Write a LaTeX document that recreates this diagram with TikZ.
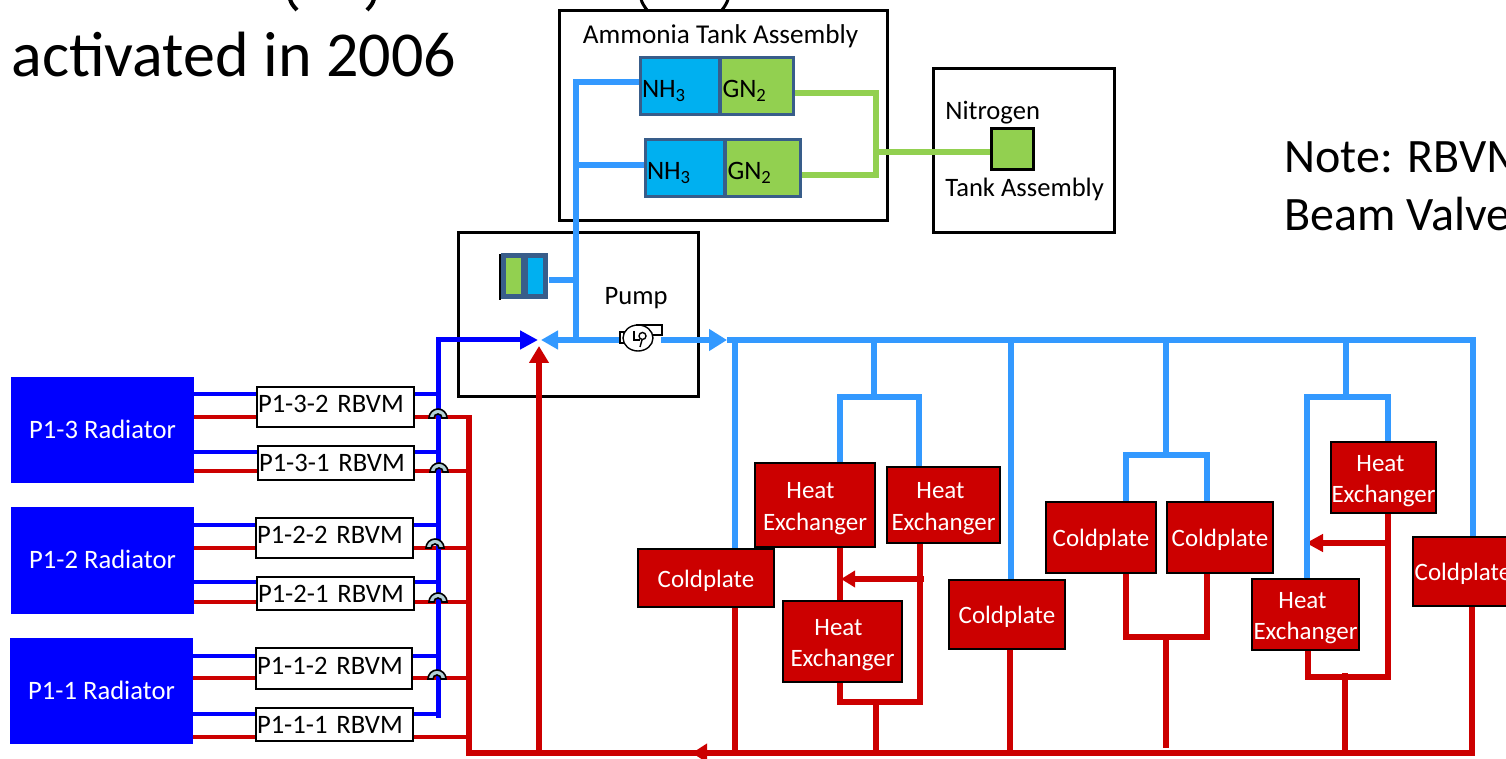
\documentclass[tikz,border=0pt]{standalone}
\usepackage{fontspec}
\setmainfont{Carlito}
\usetikzlibrary{arrows.meta}

\newcommand{\heatline}[1]{\rule{0pt}{11.5pt}Heat\kern#1}

\begin{document}
\begin{tikzpicture}[
		x=0.5pt, y=-0.5pt,
		txt/.style={font=\fontsize{13.3}{15.8}\selectfont, inner sep=0pt, align=center},
		lowtxt/.style={txt, execute at begin node={\rule{0pt}{11.5pt}}},
		boxsize/.style 2 args={minimum width=#1*0.5pt, minimum height=#2*0.5pt},
		lefttext/.style={text width=#1*0.5pt-1pt, inner xsep=0.5pt, align=left},
		bigbox/.style={draw=black, line width=1.5pt, fill=white, inner sep=0pt},
		part/.style={lowtxt, font=\fontsize{12.5}{15.8}\selectfont, draw=black, line width=0.8pt, fill=partred, text=white},
		valve/.style={txt, draw=black, line width=0.7pt, fill=white},
		radiator/.style={txt, fill=radblue, text=white, text depth=1pt},
		tank/.style={txt, draw=tankedge, line width=1.5pt, fill=#1, execute at begin node={\rule{0pt}{13.5pt}\kern0.5pt}},
		coldline/.style={line width=3pt, draw=coldblue},
		radline/.style={line width=2.1pt, draw=radblue},
		hotline/.style={line width=2.6pt, draw=partred},
		gasline/.style={line width=2.9pt, draw=gasgreen},
		hop/.style={line width=0.8pt, draw=black, fill=hopfill}
		]
		
		% ==========================================
		% COLORS
		% ==========================================
		\definecolor{coldblue}{HTML}{3399FF}
		\definecolor{radblue}{HTML}{0000FF}
		\definecolor{partred}{HTML}{CC0000}
		\definecolor{gasgreen}{HTML}{92D050}
		\definecolor{nhblue}{HTML}{00B0F0}
		\definecolor{tankedge}{HTML}{385D8A}
		\definecolor{hopfill}{HTML}{B4D2D7}
		
		\useasboundingbox (0,0) rectangle (1506,759);
		\clip (0,0) rectangle (1506,759);
		
		% ==========================================
		% TITLE AND NOTE (RUN OFF THE PAGE)
		% ==========================================
		\draw[line width=2pt] (290,-1) .. controls (291,3) and (293,6) .. (297,10);
		\draw[line width=2pt] (374,-1) .. controls (373,3) and (371,6) .. (367,10);
		\draw[line width=1.5pt] (641,-1) .. controls (642,3) and (644,6) .. (647,10);
		\draw[line width=1.5pt] (728,-1) .. controls (727,3) and (725,6) .. (722,10);
		\node[anchor=base west, inner sep=0pt, font=\fontsize{32}{36}\selectfont] (title) at (11,76.5) {activated in 2006};
		\node[anchor=base west, inner sep=0pt, font=\fontsize{24}{28}\selectfont] (note1) at (1284,173) {Note: RBVM};
		\node[anchor=base west, inner sep=0pt, font=\fontsize{24}{28}\selectfont] (note2) at (1284,231) {Beam Valve};
		
		% ==========================================
		% ENCLOSING BOXES
		% ==========================================
		\node[bigbox, boxsize={328}{210}] (ammoniabox) at (723,116) {};
		\node[bigbox, boxsize={181}{164}] (nitrogenbox) at (1023.5,151) {};
		\node[bigbox, boxsize={240}{164}] (pumpbox) at (578,315) {};
		
		\node[lowtxt, font=\fontsize{13.6}{16}\selectfont] (ammonialabel) at (720.5,34) {Ammonia Tank Assembly};
		\node[lowtxt, anchor=west] (nitrogenlabel) at (945,110) {Nitrogen};
		\node[lowtxt, anchor=west] (tanklabel) at (945,187) {Tank Assembly};
		\node[lowtxt] (pumplabel) at (636,295) {Pump};
		
		% ==========================================
		% TANKS
		% ==========================================
		\node[tank=nhblue, boxsize={79}{57}, lefttext=79] (nh1) at (679.5,86) {NH\textsubscript{3}};
		\node[tank=gasgreen, boxsize={73}{57}, lefttext=73] (gn1) at (757,86) {GN\textsubscript{2}};
		\node[tank=nhblue, boxsize={79}{57}, lefttext=79] (nh2) at (684.5,168) {NH\textsubscript{3}};
		\node[tank=gasgreen, boxsize={75}{57}, lefttext=75] (gn2) at (763,168) {GN\textsubscript{2}};
		\node[draw=black, line width=1.9pt, fill=gasgreen, boxsize={42}{41}] (gn3) at (1012.5,149) {};
		
		\node[tank=gasgreen, line width=2.5pt, boxsize={20}{41}] (tinygn) at (513,276.5) {};
		\node[tank=nhblue, line width=2.5pt, boxsize={20}{41}] (tinynh) at (535.5,276.5) {};
		\coordinate (tinyedge) at (500,254);
		\draw[line width=0.8pt] (tinyedge) -- (500,300);
		
		% ==========================================
		% COLD LOAD PARTS
		% ==========================================
		\node[part, boxsize={120}{84}] (he1) at (815,505) {\heatline{4.5pt}\\Exchanger};
		\node[part, boxsize={113}{76}] (he2) at (943.5,505) {\heatline{3pt}\\Exchanger};
		\node[part, boxsize={119}{81}] (he3) at (842.5,641.5) {\heatline{4pt}\\Exchanger};
		\node[part, boxsize={105}{71}] (he4) at (1383.5,477.5) {\heatline{3pt}\\Exchanger};
		\node[part, boxsize={107}{71}] (he5) at (1305.5,614.5) {\heatline{3pt}\\Exchanger};
		
		\node[part, boxsize={136}{58}] (cp1) at (706,578) {Coldplate};
		\node[part, boxsize={116}{69}] (cp2) at (1007,614.5) {Coldplate};
		\node[part, boxsize={110}{71}] (cp3) at (1101,537.5) {Coldplate};
		\node[part, boxsize={106}{71}] (cp4) at (1220,537.5) {Coldplate};
		\node[part, boxsize={100}{69}] (cp5) at (1463,571.5) {Coldplate};
		
		% ==========================================
		% RADIATORS AND VALVES
		% ==========================================
		\node[radiator, boxsize={183}{106}] (rad3) at (102.5,430) {P1-3 Radiator};
		\node[radiator, boxsize={183}{107}] (rad2) at (102.5,560.5) {P1-2 Radiator};
		\node[radiator, boxsize={183}{106}] (rad1) at (101.5,691) {P1-1 Radiator};
		
		\node[valve, boxsize={157}{40}, lefttext=157, text depth=3pt] (v32) at (335.5,407) {P1-3-2 RBVM};
		\node[valve, boxsize={156}{34}, lefttext=156] (v31) at (336,463) {P1-3-1 RBVM};
		\node[valve, boxsize={157}{40}, lefttext=157, text depth=3pt] (v22) at (334.5,538) {P1-2-2 RBVM};
		\node[valve, boxsize={157}{33}, lefttext=157] (v21) at (335.5,593.5) {P1-2-1 RBVM};
		\node[valve, boxsize={156}{41}, lefttext=156, text depth=3pt] (v12) at (334,668.5) {P1-1-2 RBVM};
		\node[valve, boxsize={157}{33}, lefttext=157] (v11) at (334.5,724.5) {P1-1-1 RBVM};
		
		% ==========================================
		% NITROGEN LINES
		% ==========================================
		\coordinate (gastop) at (876,93);
		\coordinate (gasmid) at (876,152);
		\coordinate (gasbot) at (876,175);
		\draw[gasline] (gn1.east |- gastop) -- (gastop) -- (gasbot) -- (gn2.east |- gasbot);
		\draw[gasline] (gasmid) -- (gn3.west |- gasmid);
		
		% ==========================================
		% RETURN LINES (RED)
		% ==========================================
		\coordinate (hotstart) at (469,415.5);
		\coordinate (hotcorner) at (469,753);
		\coordinate (hotend) at (1472,753);
		\coordinate (hotriser) at (539,753);
		\coordinate (hottip) at (539,346);
		\coordinate (hotarrow) at (692,753);
		\coordinate (hotarrowtail) at (712,753);
		
		\draw[hotline] (hotstart) -- (hotcorner) -- (hotend) -- (cp5.south -| hotend);
		\draw[hotline, -{Triangle[length=8.5pt, width=9.5pt]}] (hotriser) -- (hottip);
		\draw[hotline, -{Triangle[length=7.5pt, width=9pt]}] (hotarrowtail) -- (hotarrow);
		\draw[hotline] (cp1.south -| 735,0) -- (735,753);
		\draw[hotline] (cp2.south -| 1010,0) -- (1010,753);
		
		% Exchanger groups that join before the return line
		\coordinate (hea) at (840,702);
		\coordinate (heb) at (920,702);
		\draw[hotline] (he1.south -| hea) -- (he3.north -| hea);
		\draw[hotline] (he3.south -| hea) -- (hea) -- (heb) -- (he2.south -| heb);
		\draw[hotline] (876,702) -- (876,753);
		\draw[hotline, -{Triangle[length=7pt, width=8pt]}] (924,579) -- (841,579);
		
		\coordinate (hec) at (1308,677);
		\coordinate (hed) at (1388,677);
		\draw[hotline] (he5.south -| hec) -- (hec) -- (hed) -- (he4.south -| hed);
		\draw[hotline] (1345,673) -- (1345,753);
		\draw[hotline, -{Triangle[length=8.5pt, width=8.5pt]}] (1388,543) -- (1306,543);
		
		% Coldplate pair with the heavier line
		\coordinate (cpa) at (1126,637);
		\coordinate (cpb) at (1207,637);
		\draw[hotline, line width=3.2pt] (cp3.south -| cpa) -- (cpa) -- (cpb) -- (cp4.south -| cpb);
		\draw[hotline, line width=3.2pt] (1166,637) -- (1166,748);
		
		% ==========================================
		% SUPPLY LINES (LIGHT BLUE)
		% ==========================================
		\coordinate (coldtop) at (576,82);
		\coordinate (coldmid) at (576,165);
		\coordinate (coldstub) at (576,280);
		\coordinate (coldbot) at (576,340);
		\coordinate (coldtip) at (541,340);
		\coordinate (coldarrow) at (727,340);
		\coordinate (coldend) at (1473,340);
		
		\node[inner sep=0pt, boxsize={42}{34}] (pumpicon) at (640,336) {};
		
		\draw[coldline] (nh1.west |- coldtop) -- (coldtop) -- (coldbot);
		\draw[coldline] (nh2.west |- coldmid) -- (coldmid);
		\draw[coldline] (549,280) -- (coldstub);
		\draw[coldline, -{Triangle[length=8.5pt, width=9pt]}] (pumpicon.west |- coldbot) -- (coldtip);
		\draw[coldline, -{Triangle[length=9pt, width=10.5pt]}] (pumpicon.east |- coldbot) -- (coldarrow);
		\draw[coldline] (coldarrow) -- (coldend) -- (cp5.north -| coldend);
		\draw[coldline] (735,340) -- (cp1.north -| 735,0);
		\draw[coldline] (1011,340) -- (cp2.north -| 1011,0);
		
		% Each fork: riser x / bar y / left x / right x / left part / right part
		\foreach \bx/\by/\lx/\rx/\nl/\nr in {874/397/840/919/he1/he2, 1166/455/1126/1207/cp3/cp4, 1346/397/1307/1388/he5/he4} {
			\coordinate (forkl) at (\lx,\by);
			\coordinate (forkr) at (\rx,\by);
			\draw[coldline] (\bx,340) -- (\bx,\by);
			\draw[coldline, line width=3.2pt] (\nl.north -| forkl) -- (forkl) -- (forkr) -- (\nr.north -| forkr);
		}
		
		% ==========================================
		% RADIATOR LINES
		% ==========================================
		% valve / radiator / blue y / red y
		\foreach \v/\rad/\cy/\ry in {v32/rad3/394/417, v31/rad3/452/471, v22/rad2/525/548, v21/rad2/582/602, v12/rad1/656/678, v11/rad1/714/737} {
			\draw[radline] (\rad.east |- 0,\cy) -- (\v.west |- 0,\cy);
			\draw[hotline, line width=2.3pt] (\rad.east |- 0,\ry) -- (\v.west |- 0,\ry);
			\draw[radline] (\v.east |- 0,\cy) -- (438,\cy);
			\draw[hotline, line width=2.3pt] (\v.east |- 0,\ry) -- (469,\ry);
		}
		\coordinate (radend) at (438,718);
		\coordinate (radcorner) at (438,340);
		\coordinate (radtip) at (538,340);
		\draw[radline, line width=2.5pt, -{Triangle[length=9pt, width=9pt]}] (radend) -- (radcorner) -- (radtip);
		
		% Line hops over the blue riser
		\foreach \hx/\hy in {438/418, 439/472, 435/548, 438/602, 437/679} {
			\draw[hop] (\hx-9,\hy) arc[start angle=180, end angle=360, radius=9]
				-- (\hx+4,\hy) arc[start angle=360, end angle=180, radius=4] -- cycle;
		}
		
		% ==========================================
		% PUMP SYMBOL
		% ==========================================
		\draw[line width=0.7pt, fill=white] (620,332) rectangle (624,343);
		\draw[line width=0.7pt, fill=white] (638,338) ellipse[x radius=15, y radius=13];
		\draw[line width=0.7pt] (636,325) -- (662,325) -- (662,335) -- (652,335);
		\draw[line width=0.7pt] (634,331) -- (634,340) -- (640,340);
		\draw[line width=0.7pt] (639,336) arc[start angle=180, end angle=540, radius=3.5];
		\draw[line width=0.7pt] (642,340) -- (640,347);
	\end{tikzpicture}
\end{document}
